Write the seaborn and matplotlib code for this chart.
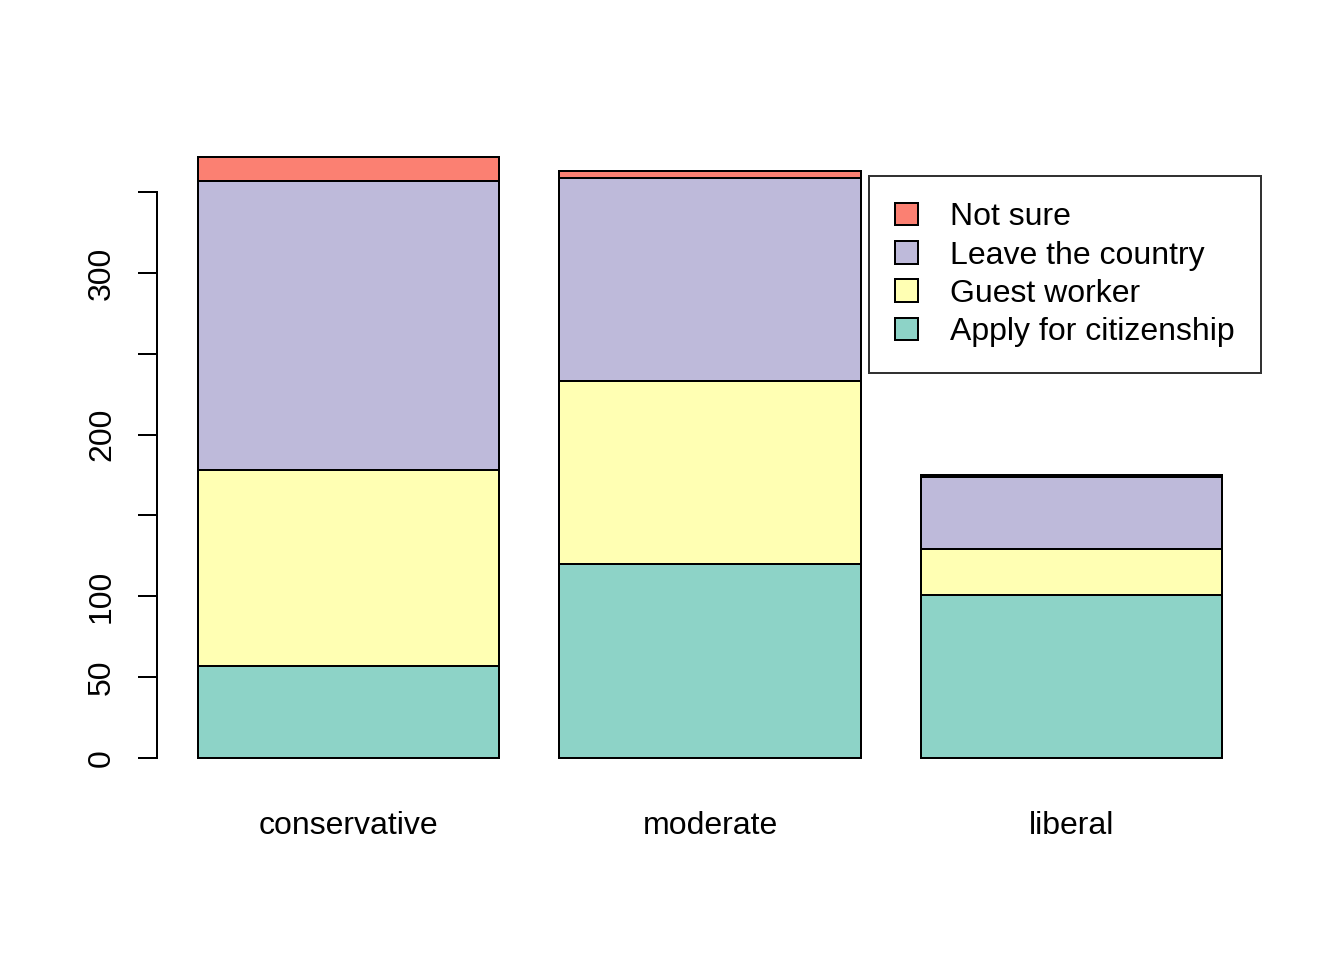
import matplotlib
matplotlib.use("Agg")
import matplotlib.pyplot as plt
import matplotlib.patches as mpatches
import seaborn as sns
import numpy as np
import pandas as pd

categories = ["conservative", "moderate", "liberal"]
series_names = ["Apply for citizenship", "Guest worker", "Leave the country", "Not sure"]
apply_cit = [57, 120, 101]
guest_worker = [121, 113, 28]
leave_country = [179, 126, 45]
not_sure = [15, 4, 1]
colors = ["#8DD3C7", "#FFFFB3", "#BEBADA", "#FB8072"]

sns.set_style("white")
plt.rcParams["font.family"] = ["Liberation Sans", "DejaVu Sans"]
plt.rcParams["font.size"] = 12
plt.rcParams["text.color"] = "black"
plt.rcParams["xtick.color"] = "black"
plt.rcParams["ytick.color"] = "black"
plt.rcParams["axes.labelcolor"] = "black"

fig = plt.figure(figsize=(7, 5), dpi=192)
W, H = 1344, 960
ax = fig.add_axes([157 / W, (H - 782) / H, (1263 - 157) / W, (782 - 132.5) / H])

layers = [apply_cit, guest_worker, leave_country, not_sure]
cums = np.cumsum(np.array(layers), axis=0)
for i in range(len(layers) - 1, -1, -1):
    df = pd.DataFrame({"cat": categories, "val": cums[i]})
    sns.barplot(data=df, x="cat", y="val", order=categories, color=colors[i],
                saturation=1, width=1 / 1.2, edgecolor="black", linewidth=0.75,
                errorbar=None, ax=ax)

ymax = cums[-1].max()
ax.set_ylim(-0.04 * ymax, ymax * 1.04)
ax.set_xlim(-0.53, 2.53)
for s in ["top", "right", "bottom"]:
    ax.spines[s].set_visible(False)
ax.spines["left"].set_bounds(0, 350)
ax.spines["left"].set_linewidth(0.75)
ax.spines["left"].set_color("black")
ax.set_yticks([0, 50, 100, 150, 200, 250, 300, 350])
ax.set_yticklabels(["0", "50", "100", "", "200", "", "300", ""])
ax.tick_params(axis="y", length=7, width=0.75, color="black", pad=8,
               labelrotation=90, labelsize=12, left=True, labelcolor="black")
for t in ax.get_yticklabels():
    t.set_va("center")
ax.tick_params(axis="x", length=0, pad=11, labelsize=12, labelcolor="black")
ax.set_xlabel("")
ax.set_ylabel("")

handles = [mpatches.Patch(facecolor=colors[i], edgecolor="black", linewidth=0.75,
                          label=series_names[i]) for i in range(3, -1, -1)]
leg = fig.legend(handles=handles, loc="upper left",
                 bbox_to_anchor=(869 / W, 1 - 176 / H), bbox_transform=fig.transFigure,
                 frameon=True, fancybox=False, edgecolor="black", fontsize=12,
                 handlelength=0.72, handleheight=0.72, handletextpad=1.0,
                 labelspacing=0.26, borderpad=0.82, borderaxespad=0)
leg.get_frame().set_linewidth(0.75)
for t in leg.get_texts():
    t.set_color("black")

fig.savefig("out.png", dpi=192)
